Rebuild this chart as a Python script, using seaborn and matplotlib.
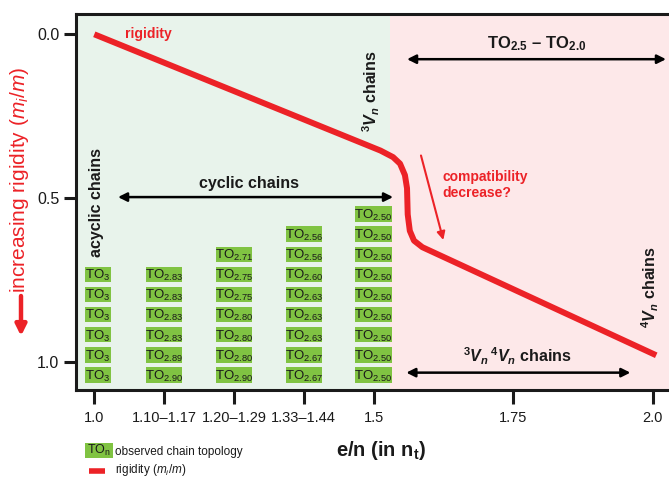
import matplotlib
matplotlib.use("Agg")
import matplotlib.pyplot as plt
from matplotlib.patches import Rectangle
from matplotlib.lines import Line2D
import seaborn as sns

# ---- data -----------------------------------------------------------------
# e/n categories along the (broken) x axis and their axis positions
tick_labels = ["1.0", "1.10\u20131.17", "1.20\u20131.29", "1.33\u20131.44", "1.5", "1.75", "2.0"]
tick_pos = [0, 1, 2, 3, 4, 6, 8]

# observed chain topologies per e/n column (top to bottom)
topo_col0 = ["3", "3", "3", "3", "3", "3"]
topo_col1 = ["2.83", "2.83", "2.83", "2.83", "2.89", "2.90"]
topo_col2 = ["2.71", "2.75", "2.75", "2.80", "2.80", "2.80", "2.90"]
topo_col3 = ["2.56", "2.56", "2.60", "2.63", "2.63", "2.63", "2.67", "2.67"]
topo_col4 = ["2.50"] * 9
topo_columns = [topo_col0, topo_col1, topo_col2, topo_col3, topo_col4]

# rigidity (m_i/m) along the x axis positions
rigidity_x = [0.0, 4.10, 4.28, 4.38, 4.45, 4.48, 4.49, 4.52, 4.58, 4.70, 8.05]
rigidity_y = [0.0, 0.355, 0.375, 0.395, 0.430, 0.470, 0.550, 0.600, 0.630, 0.650, 0.980]

# ---- style ----------------------------------------------------------------
sns.set_theme(style="ticks")
plt.rcParams["font.family"] = ["Liberation Sans", "DejaVu Sans"]
plt.rcParams["mathtext.fontset"] = "custom"
plt.rcParams["mathtext.rm"] = "Liberation Sans"
plt.rcParams["mathtext.it"] = "Liberation Sans:italic"
plt.rcParams["mathtext.bf"] = "Liberation Sans:bold"
plt.rcParams["mathtext.bfit"] = "Liberation Sans:italic:bold"

RED = "#ec2227"
BOX_GREEN = "#80c342"
BG_GREEN = "#e8f3eb"
BG_PINK = "#fde8e9"
INK = "#1a1a1a"

fig = plt.figure(figsize=(6.69, 4.79), dpi=100)
ax = fig.add_axes([76 / 669, 1 - 390 / 479, 1 - 76 / 669, (390 - 14) / 479])

xmin, xmax = -0.262, 8.233
split = 4.24
ax.set_xlim(xmin, xmax)
ax.set_ylim(1.086, -0.062)

ax.axvspan(xmin, split, color=BG_GREEN, zorder=0, lw=0)
ax.axvspan(split, xmax, color=BG_PINK, zorder=0, lw=0)

# ---- topology boxes -------------------------------------------------------
row0 = 1.040
row_step = 0.0614
box_h = 0.047
for ci, col in enumerate(topo_columns):
    wide = col[0] != "3"
    w = 0.52 if wide else 0.38
    xc = ci + (0.0 if wide else 0.05)
    for k, val in enumerate(reversed(col)):
        yc = row0 - row_step * k
        ax.bar(xc, box_h, width=w, bottom=yc - box_h / 2, color=BOX_GREEN,
               edgecolor="none", zorder=2)
        ax.text(xc, yc + 0.004, "TO$_{%s}$" % val, ha="center", va="center",
                fontsize=9.5, color=INK, zorder=3)

# ---- rigidity line --------------------------------------------------------
sns.lineplot(x=rigidity_x, y=rigidity_y, sort=False, estimator=None, ax=ax,
             color=RED, lw=4.3, zorder=4)
for ln in ax.lines:
    ln.set_solid_joinstyle("round")
    ln.set_solid_capstyle("butt")

# ---- annotations ----------------------------------------------------------
arrow_kw = dict(arrowstyle="<|-|>", lw=1.8, color="black", mutation_scale=13,
                shrinkA=0, shrinkB=0)
ax.annotate("", xy=(4.28, 0.497), xytext=(0.34, 0.497), arrowprops=arrow_kw, zorder=5)
ax.annotate("", xy=(8.19, 0.076), xytext=(4.48, 0.076), arrowprops=arrow_kw, zorder=5)
ax.annotate("", xy=(7.68, 1.033), xytext=(4.47, 1.033), arrowprops=arrow_kw, zorder=5)
ax.annotate("", xy=(5.0, 0.628), xytext=(4.68, 0.37),
            arrowprops=dict(arrowstyle="-|>", lw=1.5, color=RED, mutation_scale=12,
                            shrinkA=0, shrinkB=0), zorder=5)

bold = dict(fontweight="bold", color=INK, fontsize=11.5)
ax.text(0.44, -0.002, "rigidity", color=RED, fontweight="bold", fontsize=10,
        ha="left", va="center")
ax.text(2.22, 0.456, "cyclic chains", ha="center", va="center", **bold)
ax.text(0.034, 0.515, "acyclic chains", rotation=90, ha="center", va="center", **bold)
ax.text(3.97, 0.175, r"$^{\mathbf{3}}\mathbfit{V}_{\mathbfit{n}}$ chains", rotation=90,
        ha="center", va="center", **bold)
ax.text(7.96, 0.772, r"$^{\mathbf{4}}\mathbfit{V}_{\mathbfit{n}}$ chains", rotation=90,
        ha="center", va="center", **bold)
ax.text(6.06, 0.982,
        r"$^{\mathbf{3}}\mathbfit{V}_{\mathbfit{n}}\,^{\mathbf{4}}\mathbfit{V}_{\mathbfit{n}}$ chains",
        ha="center", va="center", **bold)
ax.text(6.34, 0.03, "TO$_{\\mathbf{2.5}}$ \u2013 TO$_{\\mathbf{2.0}}$",
        ha="center", va="center", fontweight="bold", color=INK, fontsize=12)
ax.text(4.99, 0.46, "compatibility\ndecrease?", color=RED, fontweight="bold",
        fontsize=10, ha="left", va="center", linespacing=1.15)

# ---- axes styling ---------------------------------------------------------
ax.set_xticks(tick_pos)
ax.set_xticklabels(tick_labels)
ax.set_yticks([0.0, 0.5, 1.0])
ax.set_yticklabels(["0.0", "0.5", "1.0"])
ax.tick_params(axis="x", length=10, width=2.2, pad=5, labelsize=10.5, colors=INK)
ax.tick_params(axis="y", length=9, width=2.2, pad=3, labelsize=11.5, colors=INK)
ax.set_xlabel("")
ax.set_ylabel("")
for side in ("left", "top", "bottom"):
    ax.spines[side].set_linewidth(2.2)
    ax.spines[side].set_color(INK)
ax.spines["right"].set_visible(False)

# axis titles
fig.text(381 / 669, 1 - 451 / 479, r"e/n (in n$_{\mathbf{t}}$)", ha="center", va="center",
         fontweight="bold", fontsize=14.5, color=INK)
fig.text(20 / 669, 1 - 180 / 479, r"increasing rigidity ($m_i/m$)", rotation=90,
         ha="center", va="center", color=RED, fontsize=15)
ax.annotate("", xy=(21 / 669, 1 - 336 / 479), xytext=(21 / 669, 1 - 296 / 479),
            xycoords="figure fraction", textcoords="figure fraction",
            arrowprops=dict(arrowstyle="-|>", lw=3.2, color=RED, mutation_scale=16,
                            shrinkA=0, shrinkB=0), annotation_clip=False)

# legend
fig.add_artist(Rectangle((85 / 669, 1 - 458 / 479), 28 / 669, 15 / 479,
                         transform=fig.transFigure, color=BOX_GREEN, lw=0))
fig.text(99 / 669, 1 - 450 / 479, "TO$_{\\mathrm{n}}$", ha="center", va="center",
         fontsize=9, color=INK)
fig.text(115 / 669, 1 - 452 / 479, "observed chain topology", ha="left", va="center",
         fontsize=8.5, color=INK)
fig.add_artist(Line2D([89 / 669, 105 / 669], [1 - 471 / 479, 1 - 471 / 479],
                      transform=fig.transFigure, color=RED, lw=4, solid_capstyle="butt"))
fig.text(115 / 669, 1 - 470 / 479, r"rigidity ($m_i/m$)", ha="left", va="center",
         fontsize=8.5, color=INK)

fig.savefig("out.png", dpi=100)
